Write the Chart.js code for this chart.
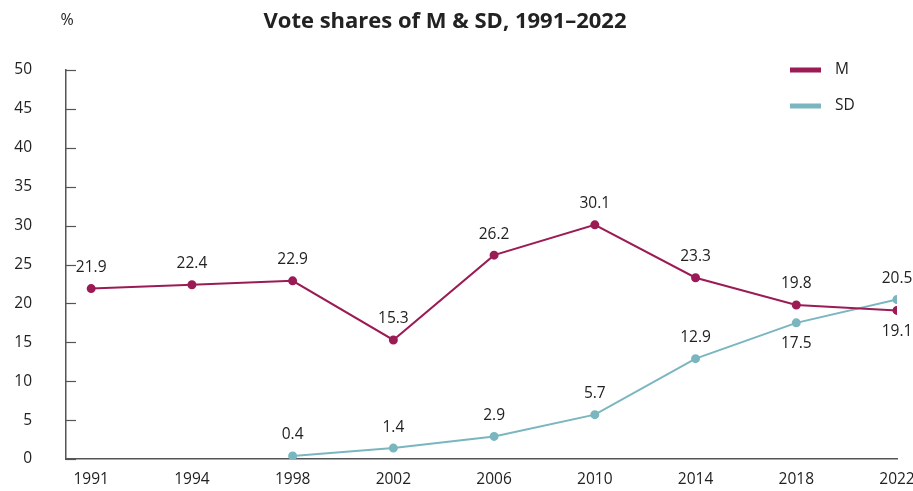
<!DOCTYPE html>
<html>
<head>
<meta charset="utf-8">
<script src="https://cdn.jsdelivr.net/npm/chart.js@4/dist/chart.umd.min.js"></script>
<style>
  html, body { margin: 0; padding: 0; background: #fff; }
  #wrap { width: 913px; height: 491px; }
</style>
</head>
<body>
<div id="wrap"><canvas id="canvas" width="913" height="491"></canvas></div>
<script>
var years = ['1991', '1994', '1998', '2002', '2006', '2010', '2014', '2018', '2022'];
var mValues = [21.9, 22.4, 22.9, 15.3, 26.2, 30.1, 23.3, 19.8, 19.1];
var sdValues = [null, null, 0.4, 1.4, 2.9, 5.7, 12.9, 17.5, 20.5];
var yTicks = [0, 5, 10, 15, 20, 25, 30, 35, 40, 45, 50];
// which labels go under the point instead of over it
var mBelow = [false, false, false, false, false, false, false, false, true];
var sdBelow = [false, false, false, false, false, false, false, true, false];

var M_COLOR = '#9b1b55';
var SD_COLOR = '#7ab6bf';
var AXIS = '#555555';
var TEXT = '#222222';
var FONT = "'Open Sans', sans-serif";

function toPoints(arr) {
  var out = [];
  for (var i = 0; i < arr.length; i++) {
    if (arr[i] !== null) out.push({ x: i, y: arr[i] });
  }
  return out;
}

var extras = {
  id: 'extras',
  afterDraw: function (chart) {
    var ctx = chart.ctx;
    var area = chart.chartArea;
    var ys = chart.scales.y;
    ctx.save();

    // title and unit
    ctx.fillStyle = TEXT;
    ctx.font = "bold 22px 'Open Sans', sans-serif";
    ctx.textAlign = 'center';
    ctx.textBaseline = 'middle';
    ctx.fillText('Vote shares of M & SD, 1991\u20132022', 445, 22);
    ctx.font = '16px ' + FONT;
    ctx.fillText('%', 67, 20);

    // y tick marks drawn inside the plot
    ctx.strokeStyle = AXIS;
    ctx.lineWidth = 1.2;
    yTicks.forEach(function (t) {
      var py = Math.round(ys.getPixelForValue(t)) + 0.5;
      ctx.beginPath();
      ctx.moveTo(area.left, py);
      ctx.lineTo(area.left + 10, py);
      ctx.stroke();
    });

    // value labels
    ctx.font = '15.5px ' + FONT;
    ctx.fillStyle = TEXT;
    ctx.textAlign = 'center';
    ctx.textBaseline = 'middle';
    [[0, mValues, mBelow], [1, sdValues, sdBelow]].forEach(function (s) {
      var meta = chart.getDatasetMeta(s[0]);
      var vals = s[1].filter(function (v) { return v !== null; });
      var below = [];
      s[1].forEach(function (v, i) { if (v !== null) below.push(s[2][i]); });
      meta.data.forEach(function (pt, i) {
        var dy = below[i] ? 21 : -21;
        ctx.fillText(vals[i].toFixed(1), pt.x, pt.y + dy);
      });
    });

    // legend
    chart.data.datasets.forEach(function (ds, i) {
      var ly = 70 + i * 36;
      ctx.strokeStyle = ds.borderColor;
      ctx.lineWidth = 5;
      ctx.beginPath();
      ctx.moveTo(790, ly);
      ctx.lineTo(821, ly);
      ctx.stroke();
      ctx.fillStyle = TEXT;
      ctx.textAlign = 'left';
      ctx.font = '15.5px ' + FONT;
      ctx.fillText(ds.label, 835, ly);
    });
    ctx.restore();
  }
};

window.onload = function () {
  var ctx = document.getElementById('canvas').getContext('2d');
  window.myLine = new Chart(ctx, {
    type: 'line',
    data: {
      datasets: [{
        label: 'M',
        data: toPoints(mValues),
        borderColor: M_COLOR,
        backgroundColor: M_COLOR,
        borderWidth: 2,
        pointRadius: 3.5,
        pointHoverRadius: 3.5,
        tension: 0
      }, {
        label: 'SD',
        data: toPoints(sdValues),
        borderColor: SD_COLOR,
        backgroundColor: SD_COLOR,
        borderWidth: 2,
        pointRadius: 3.5,
        pointHoverRadius: 3.5,
        tension: 0
      }]
    },
    options: {
      responsive: false,
      animation: false,
      layout: { padding: { top: 70, right: 16, left: 0, bottom: 0 } },
      plugins: {
        legend: { display: false },
        title: { display: false },
        tooltip: { enabled: false }
      },
      scales: {
        x: {
          type: 'linear',
          min: -0.25,
          max: years.length - 1,
          afterBuildTicks: function (scale) {
            scale.ticks = years.map(function (y, i) { return { value: i }; });
          },
          afterFit: function (scale) {
            scale.height = 32;
            scale.paddingLeft = 0;
            scale.paddingRight = 0;
          },
          grid: { display: false, drawTicks: false },
          border: { display: true, color: AXIS, width: 1.5 },
          ticks: {
            padding: 11,
            color: TEXT,
            font: { family: FONT, size: 15.5 },
            maxRotation: 0,
            autoSkip: false,
            callback: function (v) { return years[v]; }
          }
        },
        y: {
          min: 0,
          max: 50,
          afterBuildTicks: function (scale) {
            scale.ticks = yTicks.map(function (t) { return { value: t }; });
          },
          afterFit: function (scale) {
            scale.width = 66;
            scale.paddingTop = 0;
            scale.paddingBottom = 0;
          },
          grid: { display: false, drawTicks: false },
          border: { display: true, color: AXIS, width: 1.5 },
          ticks: {
            padding: 34,
            color: TEXT,
            font: { family: FONT, size: 15.5 }
          }
        }
      }
    },
    plugins: [extras]
  });
};
</script>
</body>
</html>
